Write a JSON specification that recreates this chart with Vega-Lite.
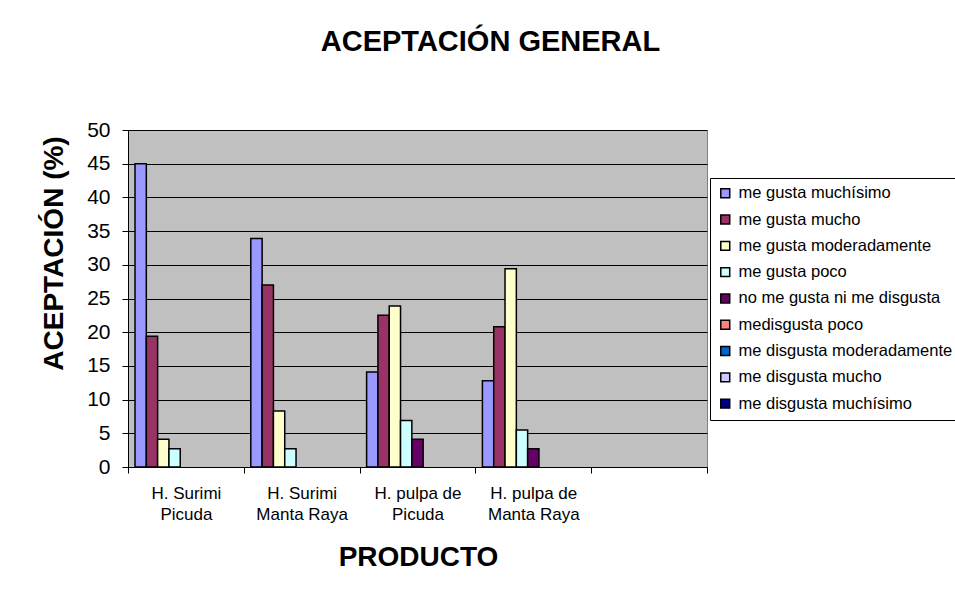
{
  "$schema": "https://vega.github.io/schema/vega-lite/v6.json",
  "width": 579,
  "height": 337,
  "autosize": "none",
  "padding": {"left": 128, "top": 130, "right": 248, "bottom": 142},
  "background": "white",
  "title": {
    "text": "ACEPTACIÓN GENERAL",
    "font": "Liberation Sans",
    "fontSize": 29,
    "fontWeight": "bold",
    "color": "black",
    "anchor": "middle",
    "frame": "group",
    "dx": 73,
    "offset": 39,
    "baseline": "alphabetic"
  },
  "data": {
    "values": [
      {"producto": "H. Surimi|Picuda", "serie": "me gusta muchísimo", "valor": 45.0},
      {"producto": "H. Surimi|Picuda", "serie": "me gusta mucho", "valor": 19.4},
      {"producto": "H. Surimi|Picuda", "serie": "me gusta moderadamente", "valor": 4.1},
      {"producto": "H. Surimi|Picuda", "serie": "me gusta poco", "valor": 2.7},
      {"producto": "H. Surimi|Manta Raya", "serie": "me gusta muchísimo", "valor": 33.9},
      {"producto": "H. Surimi|Manta Raya", "serie": "me gusta mucho", "valor": 27.0},
      {"producto": "H. Surimi|Manta Raya", "serie": "me gusta moderadamente", "valor": 8.3},
      {"producto": "H. Surimi|Manta Raya", "serie": "me gusta poco", "valor": 2.7},
      {"producto": "H. pulpa de|Picuda", "serie": "me gusta muchísimo", "valor": 14.1},
      {"producto": "H. pulpa de|Picuda", "serie": "me gusta mucho", "valor": 22.5},
      {"producto": "H. pulpa de|Picuda", "serie": "me gusta moderadamente", "valor": 23.9},
      {"producto": "H. pulpa de|Picuda", "serie": "me gusta poco", "valor": 6.9},
      {"producto": "H. pulpa de|Picuda", "serie": "no me gusta ni me disgusta", "valor": 4.1},
      {"producto": "H. pulpa de|Manta Raya", "serie": "me gusta muchísimo", "valor": 12.8},
      {"producto": "H. pulpa de|Manta Raya", "serie": "me gusta mucho", "valor": 20.8},
      {"producto": "H. pulpa de|Manta Raya", "serie": "me gusta moderadamente", "valor": 29.4},
      {"producto": "H. pulpa de|Manta Raya", "serie": "me gusta poco", "valor": 5.5},
      {"producto": "H. pulpa de|Manta Raya", "serie": "no me gusta ni me disgusta", "valor": 2.7}
    ]
  },
  "mark": {"type": "bar", "stroke": "black", "strokeWidth": 1.5},
  "encoding": {
    "x": {
      "field": "producto",
      "type": "nominal",
      "sort": null,
      "scale": {
        "domain": ["H. Surimi|Picuda", "H. Surimi|Manta Raya", "H. pulpa de|Picuda", "H. pulpa de|Manta Raya", " "],
        "paddingInner": 0,
        "paddingOuter": 0
      },
      "axis": {
        "title": "PRODUCTO",
        "titleFont": "Liberation Sans",
        "titleFontSize": 28,
        "titleFontWeight": "bold",
        "titleColor": "black",
        "titleX": 290,
        "titleY": 98,
        "titleBaseline": "alphabetic",
        "labelExpr": "datum.value ? split(datum.value, '|') : ''",
        "labelAngle": 0,
        "labelFont": "Liberation Sans",
        "labelFontSize": 17,
        "labelColor": "black",
        "labelLineHeight": 21.5,
        "labelPadding": 12,
        "labelBaseline": "top",
        "tickBand": "extent",
        "tickColor": "black",
        "tickSize": 6,
        "domainColor": "black",
        "domainWidth": 1
      }
    },
    "xOffset": {
      "field": "serie",
      "type": "nominal",
      "scale": {
        "domain": ["me gusta muchísimo", "me gusta mucho", "me gusta moderadamente", "me gusta poco", "no me gusta ni me disgusta", "medisgusta poco", "me disgusta moderadamente", "me disgusta mucho", "me disgusta muchísimo"],
        "paddingInner": 0,
        "paddingOuter": 0.62
      }
    },
    "y": {
      "field": "valor",
      "type": "quantitative",
      "scale": {"domain": [0, 50], "nice": false},
      "axis": {
        "title": "ACEPTACIÓN (%)",
        "titleFont": "Liberation Sans",
        "titleFontSize": 28,
        "titleFontWeight": "bold",
        "titleColor": "black",
        "titleAngle": 270,
        "titleAlign": "center",
        "titleBaseline": "alphabetic",
        "titleX": -66,
        "titleY": 123,
        "values": [0, 5, 10, 15, 20, 25, 30, 35, 40, 45, 50],
        "labelFont": "Liberation Sans",
        "labelFontSize": 21,
        "labelColor": "black",
        "labelPadding": 12,
        "tickColor": "black",
        "tickSize": 6,
        "domainColor": "black",
        "grid": true,
        "gridColor": "black",
        "gridWidth": 1
      }
    },
    "color": {
      "field": "serie",
      "type": "nominal",
      "scale": {
        "domain": ["me gusta muchísimo", "me gusta mucho", "me gusta moderadamente", "me gusta poco", "no me gusta ni me disgusta", "medisgusta poco", "me disgusta moderadamente", "me disgusta mucho", "me disgusta muchísimo"],
        "range": ["#9999FF", "#993366", "#FFFFCC", "#CCFFFF", "#660066", "#FF8080", "#0066CC", "#CCCCFF", "#000080"]
      },
      "legend": {
        "title": null,
        "orient": "none",
        "legendX": 582,
        "legendY": 48,
        "direction": "vertical",
        "padding": 7,
        "strokeColor": "black",
        "fillColor": "white",
        "symbolType": "square",
        "symbolSize": 80,
        "symbolStrokeColor": "black",
        "symbolStrokeWidth": 1.5,
        "symbolOpacity": 1,
        "labelFont": "Liberation Sans",
        "labelFontSize": 16.5,
        "labelColor": "black",
        "labelOffset": 5,
        "labelLimit": 400,
        "rowPadding": 9.3
      }
    }
  },
  "config": {
    "view": {"fill": "#C0C0C0", "stroke": "#808080", "strokeWidth": 1}
  }
}
